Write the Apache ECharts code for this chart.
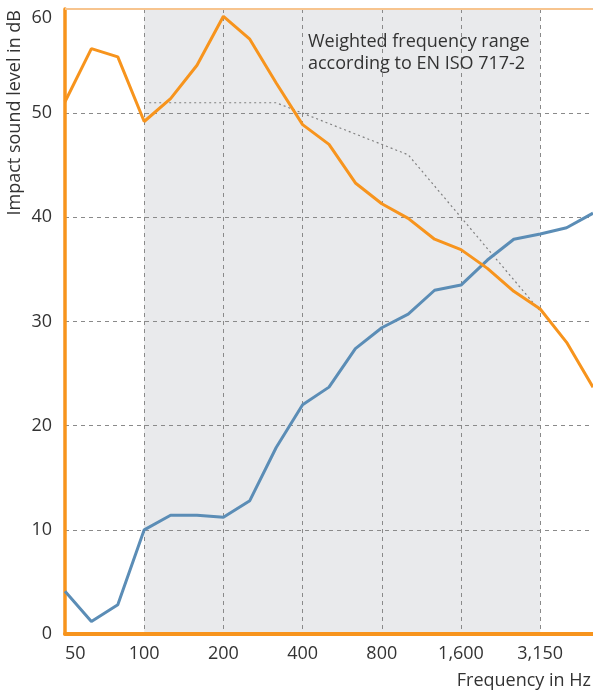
<!DOCTYPE html>
<html>
<head>
<meta charset="utf-8">
<script src="https://cdn.jsdelivr.net/npm/echarts@6/dist/echarts.min.js"></script>
<style>html,body{margin:0;padding:0;background:#fff}#c{width:593px;height:693px}</style>
</head>
<body>
<div id="c"></div>
<script>
const categories = ['50','63','80','100','125','160','200','250','315','400','500','630','800','1,000','1,250','1,600','2,000','2,500','3,150','4,000','5,000'];
const orangeValues = [51.1,56.2,55.4,49.2,51.4,54.6,59.3,57.1,52.9,48.9,47.0,43.3,41.3,39.9,37.9,36.9,35.1,32.9,31.2,28.0,23.7];
const blueValues = [4.1,1.2,2.8,10.0,11.4,11.4,11.2,12.8,17.9,22.0,23.7,27.4,29.4,30.7,33.0,33.5,35.9,37.9,38.4,39.0,40.4];
const referenceValues = ['-','-','-',51,51,51,51,51,51,50,49,48,47,46,43,40,37,34,31,'-','-'];
const yTicks = {min:0, max:60, interval:10};
const rangeStart = '100', rangeEnd = '3,150';
const annotation = 'Weighted frequency range\naccording to EN ISO 717-2';
const yName = 'Impact sound level in dB';
const xName = 'Frequency in Hz';

const FONT = 'Open Sans';
const chart = echarts.init(document.getElementById('c'), null, {renderer:'canvas'});
chart.setOption({
  animation:false,
  backgroundColor:'#fff',
  grid:{left:65, right:0, top:9, bottom:59, containLabel:false},
  xAxis:{
    type:'category', data:categories, boundaryGap:false, z:1,
    axisLine:{show:true, lineStyle:{color:'#f7941d', width:4}},
    axisTick:{show:false},
    axisLabel:{interval:2, color:'#333', fontSize:18, fontFamily:FONT, margin:11, alignMinLabel:'left'},
    splitLine:{show:true, interval:2, lineStyle:{color:'#8a8a8a', type:[4,4], width:1}}
  },
  yAxis:{
    type:'value', min:yTicks.min, max:yTicks.max, interval:yTicks.interval, z:1,
    axisLine:{show:true, lineStyle:{color:'#f7941d', width:3.5}},
    axisTick:{show:false},
    axisLabel:{color:'#333', fontSize:18, fontFamily:FONT, margin:13, verticalAlignMaxLabel:'top'},
    splitLine:{show:true, lineStyle:{color:'#8a8a8a', type:[4,4], width:1}}
  },
  graphic:[
    {type:'text', left:308, top:31, z:10, style:{text:annotation, fill:'#333', font:'18px "Open Sans"', lineHeight:22}},
    {type:'text', x:15, y:10, rotation:Math.PI/2, z:10, style:{text:yName, fill:'#333', font:'18px "Open Sans"', align:'right', verticalAlign:'middle'}},
    {type:'text', x:591, y:681, z:10, style:{text:xName, fill:'#333', font:'18px "Open Sans"', align:'right', verticalAlign:'middle'}}
  ],
  series:[
    {
      type:'line', data:[], z:-1, silent:true,
      markArea:{z:-1, silent:true, itemStyle:{color:'#e9eaec'}, data:[[{xAxis:rangeStart},{xAxis:rangeEnd}]]}
    },
    {
      type:'line', data:referenceValues, symbol:'none', connectNulls:false,
      lineStyle:{color:'#808080', width:1.2, type:[2,3]}, z:2, silent:true,
      markLine:{silent:true, symbol:'none', label:{show:false}, lineStyle:{color:'#f7c48e', type:'solid', width:2}, data:[{yAxis:yTicks.max}]}
    },
    {type:'line', data:blueValues, symbol:'none', lineStyle:{color:'#5b8db6', width:3}, z:3},
    {type:'line', data:orangeValues, symbol:'none', lineStyle:{color:'#f7941d', width:3}, z:4}
  ]
});
</script>
</body>
</html>
